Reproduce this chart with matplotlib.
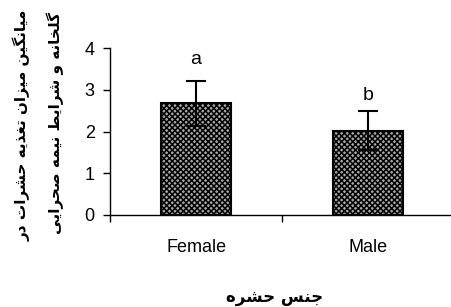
import matplotlib
matplotlib.use("Agg")
import matplotlib.pyplot as plt

# ================================
# Data
# ================================
categories = ["Female", "Male"]
means = [2.68, 2.02]
errors = [0.54, 0.47]
letters = ["a", "b"]
letter_y = [3.72, 2.87]

ylabel_lines = ["میانگین میزان تغذیه حشرات در", "گلخانه و شرایط نیمه صحرایی"]
xlabel_text = "جنس حشره"

# ================================
# Tiny Persian shaper (matplotlib draws no joined forms / RTL)
# ================================
# char: (isolated, final, initial, medial)
FORMS = {
    "ا": (0xFE8D, 0xFE8E, None, None),
    "ت": (0xFE95, 0xFE96, 0xFE97, 0xFE98),
    "ج": (0xFE9D, 0xFE9E, 0xFE9F, 0xFEA0),
    "ح": (0xFEA1, 0xFEA2, 0xFEA3, 0xFEA4),
    "خ": (0xFEA5, 0xFEA6, 0xFEA7, 0xFEA8),
    "د": (0xFEA9, 0xFEAA, None, None),
    "ذ": (0xFEAB, 0xFEAC, None, None),
    "ر": (0xFEAD, 0xFEAE, None, None),
    "ز": (0xFEAF, 0xFEB0, None, None),
    "س": (0xFEB1, 0xFEB2, 0xFEB3, 0xFEB4),
    "ش": (0xFEB5, 0xFEB6, 0xFEB7, 0xFEB8),
    "ص": (0xFEB9, 0xFEBA, 0xFEBB, 0xFEBC),
    "ط": (0xFEC1, 0xFEC2, 0xFEC3, 0xFEC4),
    "غ": (0xFECD, 0xFECE, 0xFECF, 0xFED0),
    "ل": (0xFEDD, 0xFEDE, 0xFEDF, 0xFEE0),
    "م": (0xFEE1, 0xFEE2, 0xFEE3, 0xFEE4),
    "ن": (0xFEE5, 0xFEE6, 0xFEE7, 0xFEE8),
    "ه": (0xFEE9, 0xFEEA, 0xFEEB, 0xFEEC),
    "و": (0xFEED, 0xFEEE, None, None),
    "ی": (0xFBFC, 0xFBFD, 0xFBFE, 0xFBFF),
    "گ": (0xFB92, 0xFB93, 0xFB94, 0xFB95),
}


def shape(text):
    out = []
    for i, ch in enumerate(text):
        if ch not in FORMS:
            out.append(ch)
            continue
        prev = text[i - 1] if i > 0 else None
        nxt = text[i + 1] if i + 1 < len(text) else None
        join_prev = prev in FORMS and FORMS[prev][2] is not None
        join_next = FORMS[ch][2] is not None and nxt in FORMS
        iso, fin, ini, med = FORMS[ch]
        if join_prev and join_next:
            cp = med
        elif join_prev:
            cp = fin
        elif join_next:
            cp = ini
        else:
            cp = iso
        out.append(chr(cp))
    return "".join(out)[::-1]


# ================================
# Plot
# ================================
plt.rcParams["font.family"] = ["Liberation Sans", "DejaVu Sans"]
plt.rcParams["hatch.color"] = "#333333"
plt.rcParams["hatch.linewidth"] = 1.1

fig = plt.figure(figsize=(4.51, 3.07), dpi=100)
ax = fig.add_axes([0.244, 0.2997, 0.763, 0.5439])

x = list(range(len(categories)))
ax.bar(x, means, width=0.41, color="#a8a8a8", edgecolor="black",
       linewidth=1.5, hatch="xxxxxx", zorder=2)
ax.errorbar(x, means, yerr=errors, fmt="none", ecolor="black",
            elinewidth=1.5, capsize=7, capthick=1.5, zorder=3)

for xi, lab, ly in zip(x, letters, letter_y):
    ax.text(xi, ly, lab, ha="center", va="center", fontsize=14)

ax.set_xlim(-0.5, 1.5)
ax.set_ylim(0, 4)
ax.set_yticks([0, 1, 2, 3, 4])
ax.set_xticks(x)
ax.set_xticklabels(categories)
ax.set_xticks([-0.5, 0.5, 1.5], minor=True)
ax.tick_params(axis="x", which="major", length=0, pad=17, labelsize=13)
ax.tick_params(axis="x", which="minor", length=5, width=1, direction="out")
ax.tick_params(axis="y", length=5, width=1, direction="out", pad=6, labelsize=13)

for s in ["top", "right"]:
    ax.spines[s].set_visible(False)
for s in ["left", "bottom"]:
    ax.spines[s].set_linewidth(1)

# y label (two lines, rotated) and x label
fig.text(22 / 451, 1 - 125 / 307, shape(ylabel_lines[0]), rotation=90,
         ha="center", va="center", fontsize=11, fontweight="bold",
         family=["DejaVu Sans"])
fig.text(55 / 451, 1 - 123 / 307, shape(ylabel_lines[1]), rotation=90,
         ha="center", va="center", fontsize=11, fontweight="bold",
         family=["DejaVu Sans"])
fig.text(275 / 451, 1 - 297 / 307, shape(xlabel_text), ha="center",
         va="center", fontsize=12, fontweight="bold", family=["DejaVu Sans"])

fig.savefig("out.png", dpi=100)
